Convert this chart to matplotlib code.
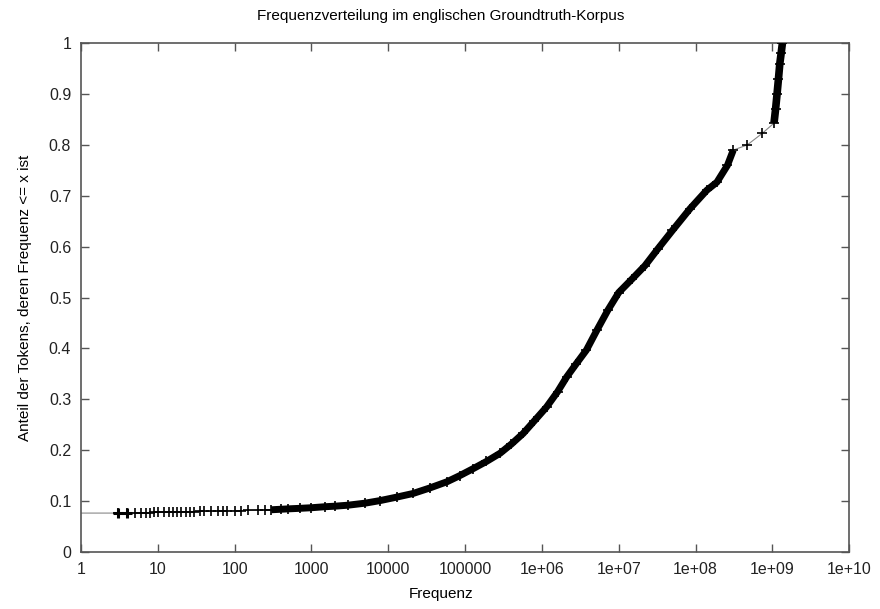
import matplotlib
matplotlib.use('Agg')
import matplotlib.pyplot as plt
import numpy as np

# values
freq = [1, 3, 4, 5, 6, 7, 8, 9, 10, 12, 14, 16, 18, 20, 23, 26, 30, 35, 40,
        50, 60, 70, 80, 100, 120, 150, 200, 250, 300, 400, 500, 700, 1000,
        1500, 2000, 3000, 5000, 7800, 1.3e4, 2.1e4, 3.5e4, 5.8e4, 8.5e4, 1.28e5,
        1.9e5, 2.85e5, 4e5, 5.7e5, 8e5, 1.15e6, 1.6e6, 2.1e6, 2.8e6, 3.8e6, 5.2e6,
        7.2e6, 1e7, 1.5e7, 2.2e7, 3.2e7, 5e7, 8.5e7, 1.4e8, 1.9e8, 2.6e8, 3.1e8,
        4.7e8, 7.4e8, 1.05e9, 1.1e9, 1.15e9, 1.2e9, 1.25e9, 1.3e9, 1.35e9]
share = [0.0765, 0.0765, 0.0767, 0.0769, 0.0771, 0.0773, 0.0775, 0.0777, 0.0779,
         0.0781, 0.0783, 0.0785, 0.0787, 0.079, 0.0792, 0.0794, 0.0796, 0.0798, 0.080,
         0.0803, 0.0806, 0.0808, 0.081, 0.0812, 0.0815, 0.0818, 0.0822, 0.0827, 0.083,
         0.084, 0.0848, 0.0858, 0.087, 0.089, 0.090, 0.092, 0.096, 0.101,
         0.108, 0.115, 0.126, 0.138, 0.150, 0.164,
         0.178, 0.194, 0.212, 0.233, 0.258, 0.285, 0.315, 0.344, 0.37, 0.397, 0.436,
         0.475, 0.51, 0.537, 0.563, 0.595, 0.632, 0.675, 0.711, 0.727, 0.76, 0.79,
         0.80, 0.823, 0.843, 0.87, 0.90, 0.93, 0.96, 0.98, 1.0]

xticks = [1, 10, 100, 1000, 1e4, 1e5, 1e6, 1e7, 1e8, 1e9, 1e10]
xlabels = ['1', '10', '100', '1000', '10000', '100000', '1e+06', '1e+07',
           '1e+08', '1e+09', '1e+10']
yticks = [0, 0.1, 0.2, 0.3, 0.4, 0.5, 0.6, 0.7, 0.8, 0.9, 1]
ylabels = ['0', '0.1', '0.2', '0.3', '0.4', '0.5', '0.6', '0.7', '0.8', '0.9', '1']

plt.rcParams['font.family'] = ['Liberation Sans', 'DejaVu Sans']

fig = plt.figure(figsize=(8.8, 6.09), dpi=100)
ax = fig.add_axes([0.092, 0.0936, 0.873, 0.8354])

f = np.array(freq)
s = np.array(share)

# thin connecting line
ax.plot(f, s, color='#888888', lw=0.8, zorder=2)
# dense band where the points pile up
band = (f >= 300) & (f <= 3.2e8)
ax.plot(f[band], s[band], color='black', lw=5, solid_capstyle='butt',
        solid_joinstyle='round', zorder=3)
top = f >= 1.05e9
ax.plot(f[top], s[top], color='black', lw=5.5, solid_capstyle='butt', zorder=3)
ax.plot(f[1:], s[1:], linestyle='none', marker='+', color='black',
        markersize=6.5, markeredgewidth=1.2, zorder=4)
ax.plot(f[1:3], s[1:3], linestyle='none', marker='+', color='black',
        markersize=6.5, markeredgewidth=2.2, zorder=4)

ax.set_xscale('log')
ax.set_xlim(1, 1e10)
ax.set_ylim(0, 1)
ax.set_xticks(xticks)
ax.set_xticklabels(xlabels)
ax.xaxis.set_minor_locator(matplotlib.ticker.NullLocator())
ax.set_yticks(yticks)
ax.set_yticklabels(ylabels)

ax.tick_params(direction='in', length=6, width=1, color='#555555',
               top=True, right=True, labelsize=11.5, labelcolor='#222222', pad=7)
for sp in ax.spines.values():
    sp.set_color('#555555')
    sp.set_linewidth(1.2)

# title and x label sit centred on the whole figure
fig.text(0.501, 0.973, 'Frequenzverteilung im englischen Groundtruth-Korpus',
         fontsize=11, ha='center', va='center')
fig.text(0.501, 0.024, 'Frequenz', fontsize=11, ha='center', va='center')
ax.set_ylabel('Anteil der Tokens, deren Frequenz <= x ist', fontsize=11, labelpad=12)

plt.savefig('out.png', dpi=100)
